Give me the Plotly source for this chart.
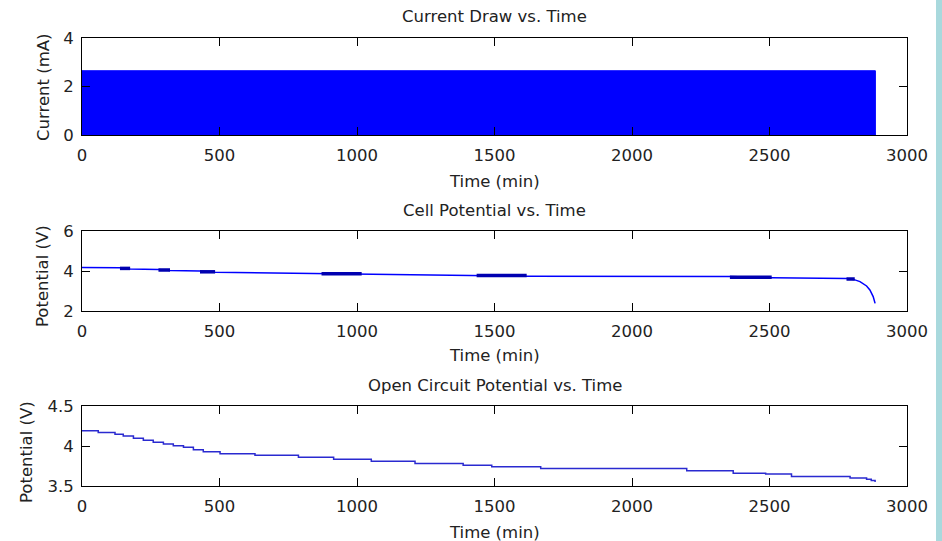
import plotly.graph_objects as go

# ---------------- data ----------------
# Current draw: pulsed current, appears as a solid band between low and high levels
current_window_min = [0, 2885]
current_levels_mA = [0.0, 2.65]

# Cell potential (V) vs time (min)
cell_time = [0, 138, 175, 278, 320, 429, 484, 871, 1017, 1435, 1617, 2356, 2508,
             2780, 2805, 2829, 2853, 2865, 2877, 2884]
cell_volts = [4.18, 4.16, 4.10, 4.08, 4.03, 4.00, 3.94, 3.88, 3.82, 3.79, 3.74, 3.72, 3.66,
              3.62, 3.58, 3.47, 3.25, 3.05, 2.72, 2.38]
# pulse windows where the trace thickens (start, end, level V)
pulse_start = [138, 278, 429, 871, 1435, 2356, 2780]
pulse_end = [175, 320, 484, 1017, 1617, 2508, 2810]
pulse_volts = [4.13, 4.05, 3.96, 3.86, 3.77, 3.69, 3.60]

# Open circuit potential (V) vs time (min), stepwise
ocv_time = [0, 59, 120, 150, 187, 223, 259, 296, 332, 369, 405, 441, 502, 629, 787,
            915, 1052, 1211, 1386, 1490, 1668, 2199, 2368, 2486, 2580, 2793, 2853, 2870, 2884]
ocv_volts = [4.19, 4.17, 4.146, 4.125, 4.096, 4.071, 4.046, 4.025, 4.004, 3.983, 3.954,
             3.929, 3.904, 3.883, 3.858, 3.835, 3.81, 3.78, 3.76, 3.74, 3.72, 3.69, 3.66,
             3.65, 3.62, 3.60, 3.585, 3.57, 3.55]

x_ticks = [0, 500, 1000, 1500, 2000, 2500, 3000]
current_ticks = [0, 2, 4]
cell_ticks = [2, 4, 6]
ocv_ticks = [3.5, 4, 4.5]

titles = ["Current Draw vs. Time", "Cell Potential vs. Time", "Open Circuit Potential vs. Time"]
y_titles = ["Current (mA)", "Potential (V)", "Potential (V)"]
x_title = "Time (min)"

# ---------------- figure ----------------
W, H = 942, 541
FONT = "DejaVu Sans"
FS = 16.5

def px_x(p):
    return p / W

def px_y(p):
    return 1 - p / H

fig = go.Figure()

t0, t1 = current_window_min
lo, hi = current_levels_mA
fig.add_trace(go.Scatter(
    x=[t0, t0, t1, t1, t0], y=[lo, hi, hi, lo, lo],
    fill="toself", fillcolor="#0000ff", mode="lines",
    line=dict(color="#0000ff", width=1), xaxis="x", yaxis="y", showlegend=False,
    hoverinfo="skip"))

fig.add_trace(go.Scatter(
    x=cell_time, y=cell_volts, mode="lines",
    line=dict(color="#0000ff", width=1.5), xaxis="x2", yaxis="y2", showlegend=False))

px, py = [], []
for s, e, v in zip(pulse_start, pulse_end, pulse_volts):
    px += [s, e, None]
    py += [v, v, None]
fig.add_trace(go.Scatter(
    x=px, y=py, mode="lines", line=dict(color="#0000b0", width=3.5),
    xaxis="x2", yaxis="y2", showlegend=False))

fig.add_trace(go.Scatter(
    x=ocv_time, y=ocv_volts, mode="lines", line_shape="hv",
    line=dict(color="#2a2ad0", width=1.5), xaxis="x3", yaxis="y3", showlegend=False))

xdom = [px_x(82), px_x(907)]
ydoms = [(135, 38), (311, 231), (486, 406)]
yranges = [[0, 4], [2, 6], [3.5, 4.5]]
yticks = [current_ticks, cell_ticks, ocv_ticks]

axis_common = dict(showline=True, linecolor="black", linewidth=1, mirror="ticks",
                   ticks="inside", ticklen=8, tickcolor="black", tickwidth=1,
                   showgrid=False, zeroline=False, automargin=False,
                   tickfont=dict(family=FONT, size=FS, color="#222"))

layout = dict(width=W, height=H, margin=dict(l=0, r=0, t=0, b=0, pad=0), autosize=False,
              paper_bgcolor="white", plot_bgcolor="white",
              font=dict(family=FONT, size=FS, color="#222"))

for i in range(3):
    sfx = "" if i == 0 else str(i + 1)
    bot, top = ydoms[i]
    layout["xaxis" + sfx] = dict(domain=xdom, range=[0, 3000], tickvals=x_ticks,
                                 anchor="y" + sfx, ticklabelstandoff=5, **axis_common)
    layout["yaxis" + sfx] = dict(domain=[px_y(bot), px_y(top)], range=yranges[i],
                                 tickvals=yticks[i], anchor="x" + sfx,
                                 ticklabelstandoff=4, **axis_common)

fig.update_layout(**layout)

cx = (xdom[0] + xdom[1]) / 2
title_y = [16, 210, 385]
xtitle_y = [181, 355, 532]
ytitle_pos = [(43, 88), (42, 276), (26, 452)]
for i in range(3):
    fig.add_annotation(x=cx, y=px_y(title_y[i]), xref="paper", yref="paper",
                       text=titles[i], showarrow=False, xanchor="center", yanchor="middle",
                       font=dict(family=FONT, size=FS, color="#222"))
    fig.add_annotation(x=cx, y=px_y(xtitle_y[i]), xref="paper", yref="paper",
                       text=x_title, showarrow=False, xanchor="center", yanchor="middle",
                       font=dict(family=FONT, size=FS, color="#222"))
    xx, yy = ytitle_pos[i]
    fig.add_annotation(x=px_x(xx), y=px_y(yy), xref="paper", yref="paper",
                       text=y_titles[i], showarrow=False, textangle=-90,
                       xanchor="center", yanchor="middle",
                       font=dict(family=FONT, size=FS, color="#222"))

# decorative cyan page strip on the right edge
fig.add_shape(type="rect", xref="paper", yref="paper", x0=px_x(936), x1=1, y0=0, y1=1,
              fillcolor="#a9d9dd", line=dict(width=0), layer="below")

fig.write_html("out.html",
               post_script="document.body.style.margin='0';"
                           "document.documentElement.style.overflow='hidden';")
